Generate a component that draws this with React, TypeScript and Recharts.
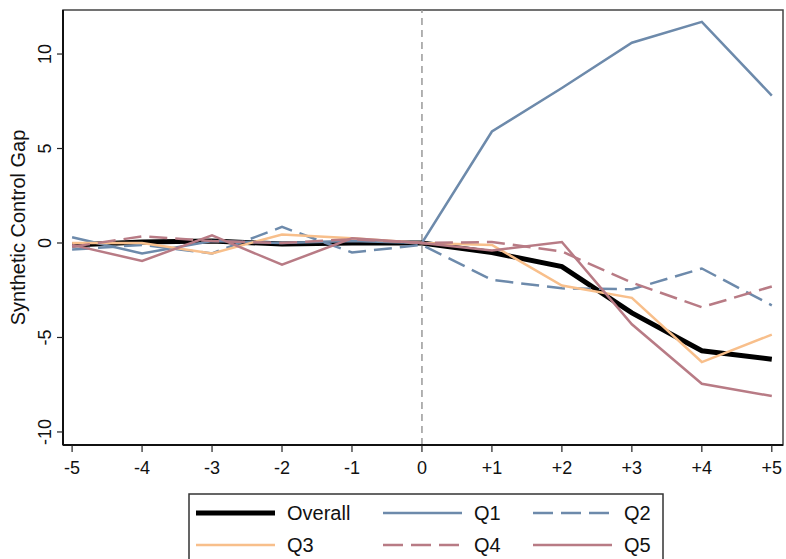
import React from "react";
import {
  LineChart,
  Line,
  XAxis,
  YAxis,
  ReferenceLine,
  ReferenceArea,
} from "recharts";

const periods = [-5, -4, -3, -2, -1, 0, 1, 2, 3, 4, 5];
const periodLabels = ["-5", "-4", "-3", "-2", "-1", "0", "+1", "+2", "+3", "+4", "+5"];
const yTicks = [-10, -5, 0, 5, 10];

const overall = [-0.1, 0.05, 0.1, -0.05, 0.0, 0.0, -0.5, -1.25, -3.7, -5.7, -6.15];
const q1 = [0.3, -0.55, 0.1, 0.0, 0.1, 0.0, 5.9, 8.2, 10.6, 11.7, 7.8];
const q2 = [-0.35, -0.1, -0.55, 0.85, -0.5, -0.1, -1.95, -2.4, -2.45, -1.35, -3.3];
const q3 = [0.0, 0.0, -0.55, 0.45, 0.25, 0.0, -0.1, -2.25, -2.9, -6.3, -4.85];
const q4 = [-0.2, 0.35, 0.1, 0.0, 0.2, 0.0, 0.05, -0.45, -2.1, -3.4, -2.3];
const q5 = [-0.1, -0.95, 0.4, -1.15, 0.25, 0.0, -0.4, 0.05, -4.3, -7.45, -8.1];

const seriesNames = ["Overall", "Q1", "Q2", "Q3", "Q4", "Q5"];
const seriesKeys = ["overall", "q1", "q2", "q3", "q4", "q5"];
const seriesValues = [overall, q1, q2, q3, q4, q5];

const BLUE = "#6d8aab";
const ORANGE = "#f8bf8b";
const MAUVE = "#b87b85";

const styles = [
  { color: "#000000", width: 5, dash: undefined },
  { color: BLUE, width: 2.5, dash: undefined },
  { color: BLUE, width: 2.5, dash: "18 8" },
  { color: ORANGE, width: 2.5, dash: undefined },
  { color: MAUVE, width: 2.5, dash: "18 8" },
  { color: MAUVE, width: 2.5, dash: undefined },
];

const data = periods.map((p, i) => {
  const row: Record<string, number> = { period: p };
  seriesKeys.forEach((k, s) => {
    row[k] = seriesValues[s][i];
  });
  return row;
});

const X_DOMAIN: [number, number] = [-5.13, 5.16];
const Y_DOMAIN: [number, number] = [-10.69, 12.33];
const FONT = "'Liberation Sans', Arial, sans-serif";

const YTick = (props: any) => {
  const { y, payload } = props;
  const cx = 45;
  return (
    <text
      x={cx}
      y={y}
      transform={`rotate(-90, ${cx}, ${y})`}
      textAnchor="middle"
      dominantBaseline="central"
      fontSize={18}
      fill="#111"
      fontFamily={FONT}
    >
      {payload.value}
    </text>
  );
};

const XTick = (props: any) => {
  const { x, y, payload } = props;
  const idx = periods.indexOf(payload.value);
  return (
    <text
      x={x}
      y={y + 14}
      textAnchor="middle"
      dominantBaseline="central"
      fontSize={18}
      fill="#111"
      fontFamily={FONT}
    >
      {idx >= 0 ? periodLabels[idx] : payload.value}
    </text>
  );
};

const YLabel = (props: any) => {
  const vb = props.viewBox || { x: 0, y: 10, width: 63, height: 435 };
  const cx = 18;
  const cy = vb.y + vb.height / 2;
  return (
    <text
      x={cx}
      y={cy}
      transform={`rotate(-90, ${cx}, ${cy})`}
      textAnchor="middle"
      dominantBaseline="central"
      fontSize={20}
      fill="#111"
      fontFamily={FONT}
    >
      Synthetic Control Gap
    </text>
  );
};

const legendCols = [8, 195, 345];
const legendRows = [20, 52];

const LegendBox = () => (
  <svg width={476} height={70} style={{ display: "block" }}>
    <rect x={1} y={1} width={474} height={90} fill="#fff" stroke="#333" strokeWidth={1.5} />
    {seriesNames.map((name, i) => {
      const col = i % 3;
      const row = Math.floor(i / 3);
      const lx = legendCols[col];
      const ly = legendRows[row];
      const st = styles[i];
      return (
        <g key={name}>
          <line
            x1={lx}
            x2={lx + 79}
            y1={ly}
            y2={ly}
            stroke={st.color}
            strokeWidth={st.width}
            strokeDasharray={st.dash ? "20 8" : undefined}
          />
          <text
            x={lx + 91}
            y={ly}
            dominantBaseline="central"
            fontSize={20}
            fill="#111"
            fontFamily={FONT}
          >
            {name}
          </text>
        </g>
      );
    })}
  </svg>
);

export default function App() {
  return (
    <div style={{ position: "absolute", left: 0, top: 0, width: 786, height: 559, background: "#fff", overflow: "hidden" }}>
      <LineChart
        width={786}
        height={559}
        data={data}
        margin={{ top: 10, right: 3, left: 0, bottom: 79 }}
        style={{ fontFamily: FONT }}
      >
        <ReferenceArea
          x1={X_DOMAIN[0]}
          x2={X_DOMAIN[1]}
          y1={Y_DOMAIN[0]}
          y2={Y_DOMAIN[1]}
          fill="none"
          stroke="#444"
          strokeWidth={1.5}
          fillOpacity={0}
        />
        <XAxis
          type="number"
          dataKey="period"
          domain={X_DOMAIN}
          ticks={periods}
          allowDataOverflow
          height={35}
          tickSize={7}
          tickLine={{ stroke: "#222", strokeWidth: 1.2 }}
          axisLine={{ stroke: "#111", strokeWidth: 2 }}
          tick={<XTick />}
          interval={0}
        />
        <YAxis
          type="number"
          domain={Y_DOMAIN}
          ticks={yTicks}
          allowDataOverflow
          width={63}
          tickSize={6}
          tickLine={{ stroke: "#222", strokeWidth: 1.2 }}
          axisLine={{ stroke: "#111", strokeWidth: 2 }}
          tick={<YTick />}
          interval={0}
          label={<YLabel />}
        />
        <ReferenceLine x={0} stroke="#999" strokeWidth={1.5} strokeDasharray="7 5" />
        {seriesKeys.map((k, i) => (
          <Line
            key={k}
            type="linear"
            dataKey={k}
            name={seriesNames[i]}
            stroke={styles[i].color}
            strokeWidth={styles[i].width}
            strokeDasharray={styles[i].dash}
            dot={false}
            activeDot={false}
            isAnimationActive={false}
          />
        ))}
      </LineChart>
      <div style={{ position: "absolute", left: 188, top: 493 }}>
        <LegendBox />
      </div>
    </div>
  );
}
